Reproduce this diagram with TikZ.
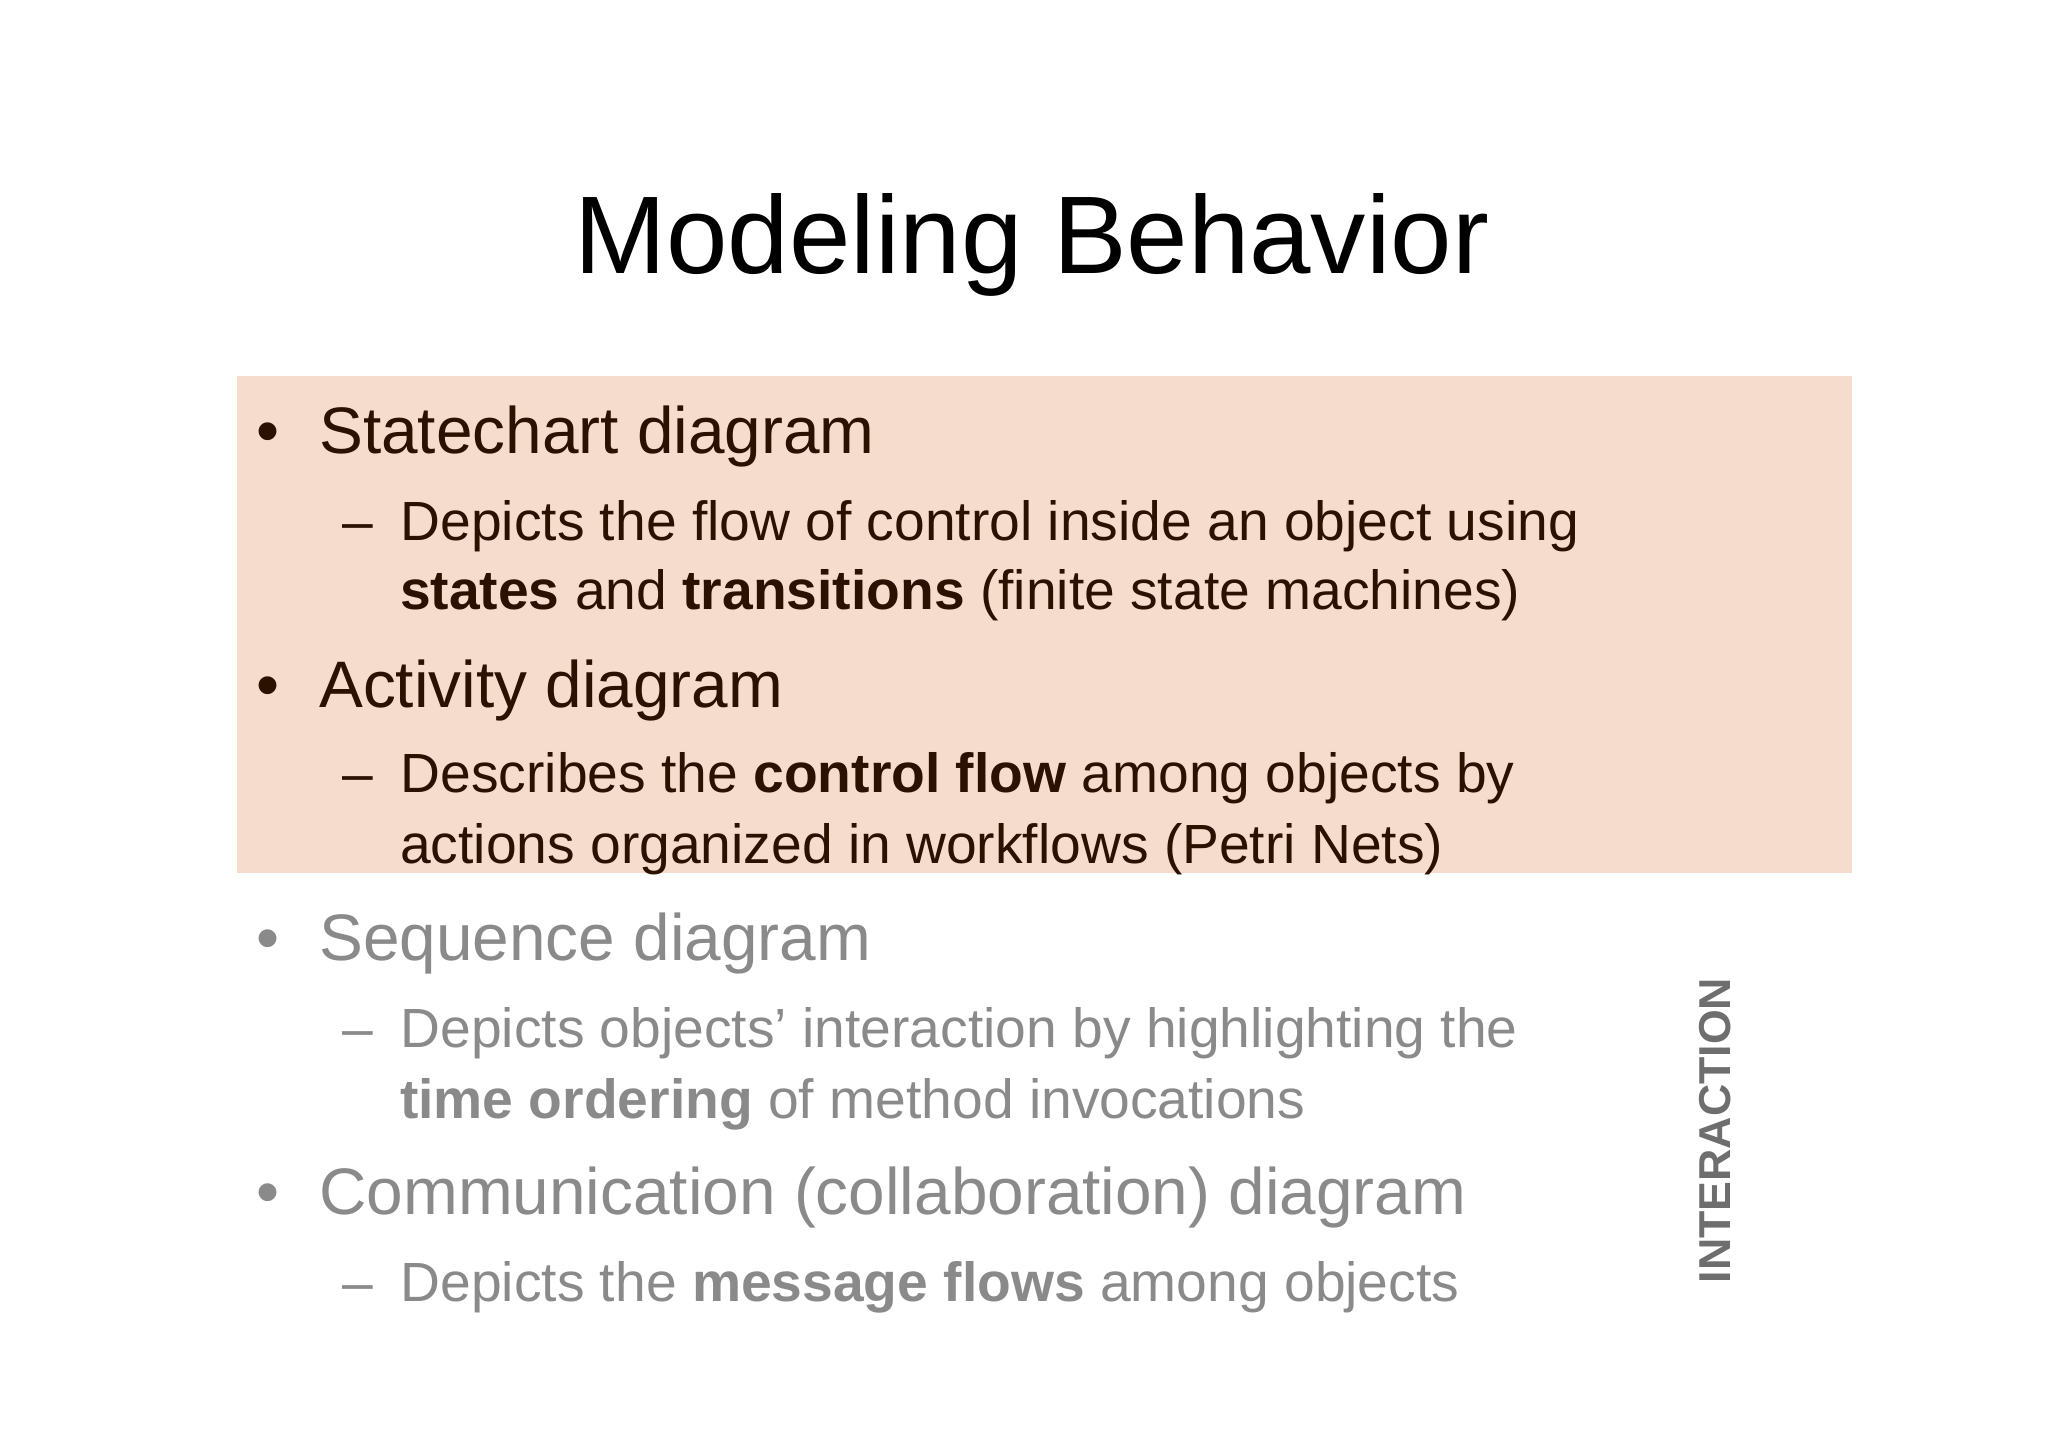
\documentclass[tikz,border=0pt]{standalone}
\usepackage{fontspec}
\setmainfont{Liberation Sans}
\definecolor{boxfill}{HTML}{F5DCCC}
\definecolor{dark}{HTML}{2B1100}
\definecolor{grey}{HTML}{8A8A8A}
\definecolor{igrey}{HTML}{6E6E6E}
\begin{document}
\begin{tikzpicture}[x=0.5pt,y=-0.5pt,
  lvlone/.style={anchor=base west,inner sep=0pt,font=\fontsize{25}{30}\selectfont},
  lvltwo/.style={anchor=base west,inner sep=0pt,font=\fontsize{21}{26}\selectfont,align=left}]
\useasboundingbox (0,0) rectangle (1558,1101);
\fill[white] (0,0) rectangle (1558,1101);
\fill[boxfill] (180,286) rectangle (1409,664);
\node[anchor=base,inner sep=0pt,font=\fontsize{42}{50}\selectfont] (title) at (785,208) {Modeling Behavior};
\begin{scope}[every node/.append style={text=dark}]
\node[lvlone] (b1) at (195,345) {•\hspace{0.6em}Statechart diagram};
\node[lvltwo] (s1) at (260,411) {–\hspace{0.5em}Depicts the flow of control inside an object using};
\node[lvltwo] (s1b) at (304,464) {\textbf{states} and \textbf{transitions} (finite state machines)};
\node[lvlone] (b2) at (195,538) {•\hspace{0.6em}Activity diagram};
\node[lvltwo] (s2) at (260,603) {–\hspace{0.5em}Describes the \textbf{control flow} among objects by};
\node[lvltwo] (s2b) at (304,657) {actions organized in workflows (Petri Nets)};
\end{scope}
\begin{scope}[every node/.append style={text=grey}]
\node[lvlone] (b3) at (195,731) {•\hspace{0.6em}Sequence diagram};
\node[lvltwo] (s3) at (260,797) {–\hspace{0.5em}Depicts objects’ interaction by highlighting the};
\node[lvltwo] (s3b) at (304,851) {\textbf{time ordering} of method invocations};
\node[lvlone] (b4) at (195,924) {•\hspace{0.6em}Communication (collaboration) diagram};
\node[lvltwo] (s4) at (260,990) {–\hspace{0.5em}Depicts the \textbf{message flows} among objects};
\end{scope}
\node[rotate=90,text=igrey,font=\bfseries\fontsize{17}{20}\selectfont,inner sep=0pt] (inter) at (1305,860) {INTERACTION};
\end{tikzpicture}
\end{document}
